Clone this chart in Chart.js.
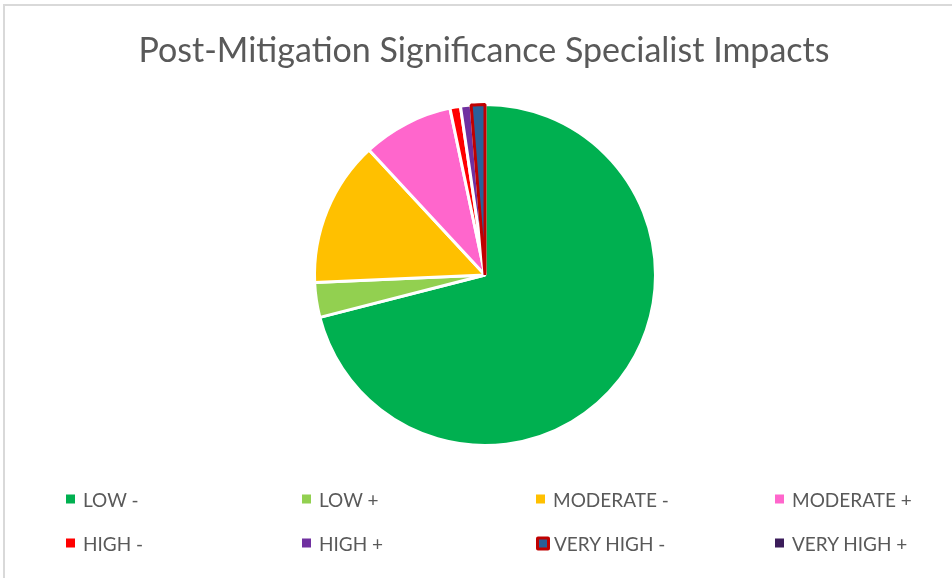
<!DOCTYPE html>
<html>
<head>
<meta charset="utf-8">
<script src="https://cdn.jsdelivr.net/npm/chart.js@4/dist/chart.umd.min.js"></script>
<style>
  html, body { margin: 0; padding: 0; background: #fff; overflow: hidden; }
  #wrap { position: relative; width: 952px; height: 578px; overflow: hidden; }
  #frame {
    position: absolute; left: 3px; top: 4px; width: 1000px; height: 640px;
    border-top: 2px solid #D9D9D9; border-left: 2px solid #D9D9D9;
  }
  #pieChart { position: absolute; left: 0; top: 0; }
  #title {
    position: absolute; left: 0; top: 48px; width: 968px;
    text-align: center; transform: translateY(-50%);
    font-family: Lato, "Open Sans", sans-serif; font-size: 34px; color: #595959;
    white-space: nowrap;
  }
  #legend { position: absolute; left: 0; top: 0; width: 952px; height: 578px; pointer-events: none; }
  .legend-item {
    position: absolute;
    display: flex;
    align-items: center;
    font-family: Lato, "Open Sans", sans-serif;
    font-size: 19px;
    color: #595959;
    white-space: nowrap;
    transform: translateY(-50%);
  }
  .legend-item .box { width: 9px; height: 9px; margin-right: 8px; box-sizing: border-box; }
</style>
</head>
<body>
<div id="wrap">
  <div id="frame"></div>
  <canvas id="pieChart" width="952" height="578"></canvas>
  <div id="title">Post-Mitigation Significance Specialist Impacts</div>
  <div id="legend"></div>
</div>
<script>
const labels = ["LOW -", "LOW +", "MODERATE -", "MODERATE +", "HIGH -", "HIGH +", "VERY HIGH -", "VERY HIGH +"];
const values = [71.0, 3.3, 13.8, 8.6, 1.0, 1.0, 1.3, 0];
const colors = ["#00B050", "#92D050", "#FFC000", "#FF66CC", "#FF0000", "#7030A0", "#2A6099", "#3B1C5A"];
const borderColors = ["#fff", "#fff", "#fff", "#fff", "#fff", "#fff", "#C00000", "#fff"];
const borderWidths = [3, 3, 3, 3, 3, 3, 3, 3];

// legend grid: 4 columns x 2 rows
const legendCols = [66, 302, 536, 775];
const legendRows = [499, 543];

const ctx = document.getElementById("pieChart").getContext("2d");

new Chart(ctx, {
  type: "pie",
  data: {
    labels: labels,
    datasets: [{
      data: values,
      backgroundColor: colors,
      borderColor: borderColors,
      borderWidth: borderWidths
    }]
  },
  options: {
    responsive: false,
    animation: false,
    layout: {
      padding: { left: 313, right: 295, top: 103, bottom: 131 }
    },
    plugins: {
      legend: { display: false },
      tooltip: { enabled: false }
    }
  }
});

// html legend
labels.forEach((label, i) => {
  const item = document.createElement("div");
  item.className = "legend-item";
  item.style.left = legendCols[i % 4] + "px";
  item.style.top = legendRows[Math.floor(i / 4)] + "px";
  const box = document.createElement("span");
  box.className = "box";
  box.style.background = colors[i];
  if (borderColors[i] !== "#fff") {
    box.style.width = "14px";
    box.style.height = "14px";
    box.style.border = "3px solid " + borderColors[i];
    box.style.borderRadius = "2px";
    box.style.marginRight = "4px";
  }
  item.appendChild(box);
  item.appendChild(document.createTextNode(label));
  document.getElementById("legend").appendChild(item);
});
</script>
</body>
</html>
